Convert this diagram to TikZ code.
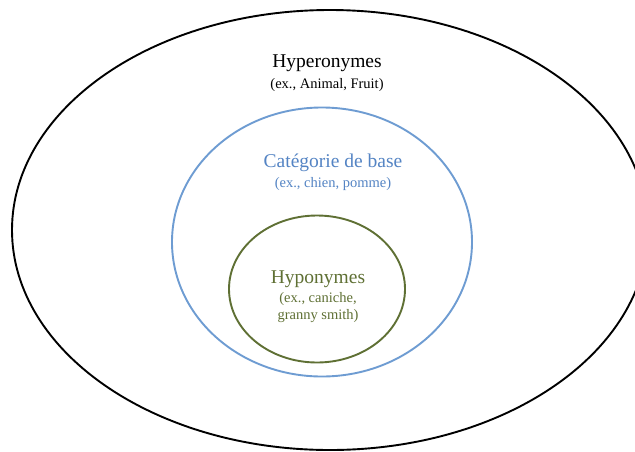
\documentclass[tikz,border=0pt]{standalone}
\usepackage{fontspec}
\setmainfont{Liberation Serif}
\usetikzlibrary{shapes.geometric}
\definecolor{bblue}{RGB}{110,156,210}
\definecolor{tblue}{RGB}{84,132,196}
\definecolor{ogreen}{RGB}{95,112,52}
\begin{document}
\begin{tikzpicture}[x=1pt,y=-1pt,
  ring/.style={draw,line width=1.9pt,ellipse,inner sep=0pt},
  big/.style={font=\fontsize{19.5}{21}\selectfont},
  small/.style={font=\fontsize{14.5}{17}\selectfont, align=center}]
\useasboundingbox (0,0) rectangle (635,451);
\clip (0,0) rectangle (635,451);
\fill[white] (0,0) rectangle (635,451);
\node[ring,black,minimum width=636pt,minimum height=440pt] (outer) at (330,230) {};
\node[ring,bblue,minimum width=300pt,minimum height=269pt] (mid) at (322,242) {};
\node[ring,ogreen,minimum width=176pt,minimum height=147pt] (inner) at (317,289) {};
\node[big] (t1) at (327,63) {Hyperonymes};
\node[small] (s1) at (327,85) {(ex., Animal, Fruit)};
\node[big,text=tblue] (t2) at (333,163) {Catégorie de base};
\node[small,text=tblue] (s2) at (333,184) {(ex., chien, pomme)};
\node[big,text=ogreen] (t3) at (318,279) {Hyponymes};
\node[small,text=ogreen] (s3) at (318,308) {(ex., caniche,\\granny smith)};
\end{tikzpicture}
\end{document}
